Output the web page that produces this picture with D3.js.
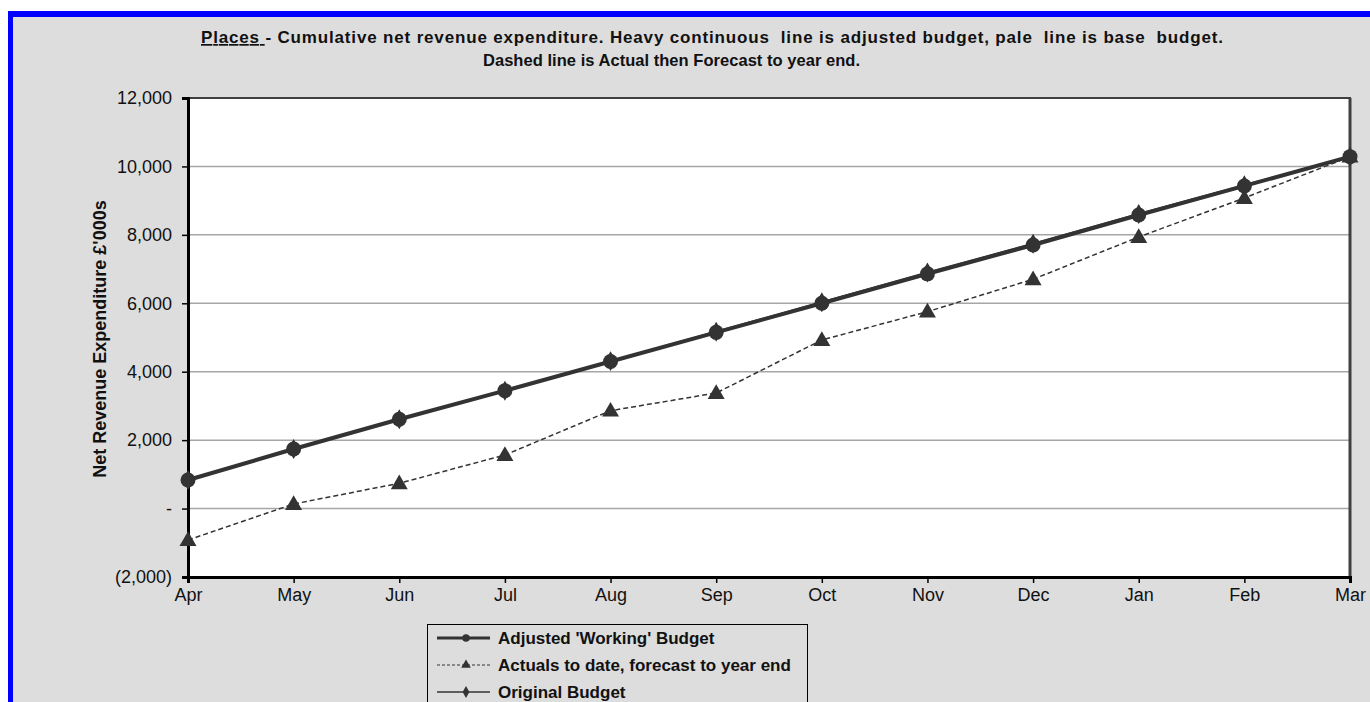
<!DOCTYPE html>
<html>
<head>
<meta charset="UTF-8">
<title>Places - cumulative net revenue expenditure</title>
<script src="https://cdn.jsdelivr.net/npm/d3@7"></script>
<style>
  body { margin: 0; background: #fff; }
  svg { display: block; font-family: "Liberation Sans", Arial, sans-serif; }
  .tick text { font-size: 18px; fill: #111; }
</style>
</head>
<body>
<svg width="1370" height="702"></svg>
<script>
// data
var months = ["Apr", "May", "Jun", "Jul", "Aug", "Sep", "Oct", "Nov", "Dec", "Jan", "Feb", "Mar"];
var adjusted = [835, 1741, 2610, 3446, 4300, 5150, 6000, 6860, 7704, 8581, 9430, 10285];
var actuals = [-919, 134, 739, 1566, 2861, 3378, 4927, 5755, 6702, 7938, 9078, 10285];
var original = [835, 1741, 2610, 3446, 4310, 5170, 6030, 6900, 7740, 8610, 9450, 10285];
var yTicks = [-2000, 0, 2000, 4000, 6000, 8000, 10000, 12000];

var svg = d3.select("svg");
var ink = "#333333";

// frame: blue border, grey chart area
svg.append("rect").attr("x", 8).attr("y", 11).attr("width", 1400).attr("height", 720).attr("fill", "#0000ff");
svg.append("rect").attr("x", 13).attr("y", 17).attr("width", 1400).attr("height", 720).attr("fill", "#dddddd");

var pLeft = 188, pRight = 1350, pTop = 98, pBottom = 577;

var x = d3.scalePoint().domain(months).range([pLeft, pRight]);
var y = d3.scaleLinear().domain([-2000, 12000]).range([pBottom, pTop]);

svg.append("rect").attr("x", pLeft).attr("y", pTop)
  .attr("width", pRight - pLeft).attr("height", pBottom - pTop)
  .attr("fill", "#fff").attr("stroke", "#404040").attr("stroke-width", 2);

// gridlines
svg.append("g").selectAll("line").data(yTicks.filter(function(d) { return d > -2000 && d < 12000; }))
  .enter().append("line")
  .attr("x1", pLeft).attr("x2", pRight)
  .attr("y1", function(d) { return y(d); }).attr("y2", function(d) { return y(d); })
  .attr("stroke", "#a6a6a6").attr("stroke-width", 1.5);

// right edge is thicker
svg.append("line").attr("x1", pRight).attr("x2", pRight).attr("y1", pTop).attr("y2", pBottom)
  .attr("stroke", "#404040").attr("stroke-width", 3);

function fmt(d) {
  if (d === 0) return "-";
  if (d < 0) return "(" + d3.format(",")(-d) + ")";
  return d3.format(",")(d);
}

var yAxis = svg.append("g").attr("transform", "translate(" + pLeft + ",0)")
  .call(d3.axisLeft(y).tickValues(yTicks).tickFormat(fmt).tickSize(6).tickPadding(10));
yAxis.select(".domain").attr("stroke", "#000").attr("stroke-width", 3);
yAxis.selectAll(".tick line").attr("stroke", "#000").attr("stroke-width", 1.5);

var xAxis = svg.append("g").attr("transform", "translate(0," + pBottom + ")")
  .call(d3.axisBottom(x).tickSize(6).tickPadding(5));
xAxis.select(".domain").attr("stroke", "#000").attr("stroke-width", 3);
xAxis.selectAll(".tick line").attr("stroke", "#000").attr("stroke-width", 1.5);

// series
var line = d3.line().x(function(d, i) { return x(months[i]); }).y(function(d) { return y(d); });

var tri = d3.symbol().type(d3.symbolTriangle).size(125);
var dia = d3.symbol().type(d3.symbolDiamond).size(115);

svg.append("path").datum(original).attr("d", line)
  .attr("fill", "none").attr("stroke", ink).attr("stroke-width", 2);
svg.append("g").selectAll("path").data(original).enter().append("path")
  .attr("d", dia)
  .attr("transform", function(d, i) { return "translate(" + x(months[i]) + "," + y(d) + ")"; })
  .attr("fill", ink);

svg.append("path").datum(actuals).attr("d", line)
  .attr("fill", "none").attr("stroke", ink).attr("stroke-width", 1.5).attr("stroke-dasharray", "5,3");
svg.append("g").selectAll("path").data(actuals).enter().append("path")
  .attr("d", tri)
  .attr("transform", function(d, i) { return "translate(" + x(months[i]) + "," + (y(d) + 1) + ")"; })
  .attr("fill", ink);

svg.append("path").datum(adjusted).attr("d", line)
  .attr("fill", "none").attr("stroke", ink).attr("stroke-width", 4);
svg.append("g").selectAll("circle").data(adjusted).enter().append("circle")
  .attr("cx", function(d, i) { return x(months[i]); })
  .attr("cy", function(d) { return y(d); })
  .attr("r", 7.5).attr("fill", ink);

// titles
var t1 = svg.append("text").attr("x", 201).attr("y", 43)
  .attr("font-size", 17).attr("font-weight", "bold").attr("fill", "#111")
  .style("white-space", "pre")
  .attr("textLength", 1022).attr("lengthAdjust", "spacing");
t1.append("tspan").attr("text-decoration", "underline").text("Places ");
t1.append("tspan").text("- Cumulative net revenue expenditure. Heavy continuous  line is adjusted budget, pale  line is base  budget.");

svg.append("text").attr("x", 483).attr("y", 66)
  .attr("font-size", 16.5).attr("font-weight", "bold").attr("fill", "#111")
  .attr("textLength", 377).attr("lengthAdjust", "spacing")
  .text("Dashed line is Actual then Forecast to year end.");

svg.append("text").attr("transform", "translate(106,339) rotate(-90)")
  .attr("text-anchor", "middle").attr("font-size", 18).attr("font-weight", "bold").attr("fill", "#111")
  .text("Net Revenue Expenditure £'000s");

// legend
var legendItems = [
  { label: "Adjusted 'Working' Budget", width: 3, dash: null, mark: "circle" },
  { label: "Actuals to date, forecast to year end", width: 1, dash: "3,2", mark: "tri" },
  { label: "Original Budget", width: 1.5, dash: null, mark: "dia" }
];
var lg = svg.append("g");
lg.append("rect").attr("x", 427.5).attr("y", 624.5).attr("width", 380).attr("height", 100)
  .attr("fill", "#dddddd").attr("stroke", "#000").attr("stroke-width", 1);
var rows = lg.selectAll("g.row").data(legendItems).enter().append("g")
  .attr("transform", function(d, i) { return "translate(0," + (638 + i * 27) + ")"; });
rows.append("line").attr("x1", 437).attr("x2", 490).attr("y1", 0).attr("y2", 0)
  .attr("stroke", ink).attr("stroke-width", function(d) { return d.width; })
  .attr("stroke-dasharray", function(d) { return d.dash; });
rows.append("path").attr("transform", "translate(466,0)")
  .attr("d", function(d) {
    if (d.mark === "circle") return d3.symbol().type(d3.symbolCircle).size(45)();
    if (d.mark === "tri") return d3.symbol().type(d3.symbolTriangle).size(40)();
    return d3.symbol().type(d3.symbolDiamond).size(40)();
  })
  .attr("fill", ink);
rows.append("text").attr("x", 498).attr("dy", "0.36em")
  .attr("font-size", 17).attr("font-weight", "bold").attr("fill", "#111")
  .text(function(d) { return d.label; });
</script>
</body>
</html>
